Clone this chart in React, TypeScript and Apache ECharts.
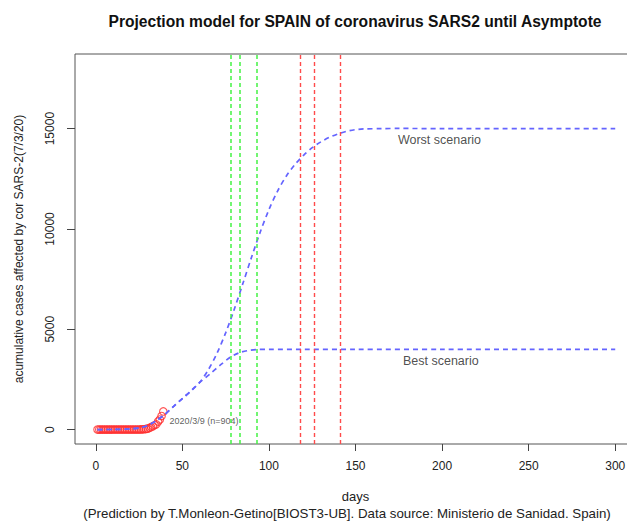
import React, { useEffect, useRef } from "react";
import * as echarts from "echarts";

// Observed cumulative cases (day 1 = 2020/1/31)
const observedDays = [1, 2, 3, 4, 5, 6, 7, 8, 9, 10, 11, 12, 13, 14, 15, 16, 17, 18, 19, 20, 21, 22, 23, 24, 25, 26, 27, 28, 29, 30, 31, 32, 33, 34, 35, 36, 37, 38, 39];
const observedCases = [1, 1, 1, 1, 1, 1, 1, 1, 1, 2, 2, 2, 2, 2, 2, 2, 2, 2, 2, 2, 2, 2, 2, 2, 3, 6, 13, 15, 32, 45, 84, 120, 165, 222, 259, 400, 500, 673, 904];

// Worst scenario projection
const worstDays = [1, 10, 20, 25, 30, 35, 40, 45, 50, 55, 60, 65, 70, 75, 80, 85, 90, 95, 100, 105, 110, 115, 120, 125, 130, 135, 140, 145, 150, 155, 165, 175, 200, 250, 300];
const worstCases = [0, 5, 30, 80, 200, 450, 765, 1160, 1545, 1930, 2350, 2980, 3800, 4820, 6000, 7290, 8600, 9850, 10960, 11890, 12630, 13210, 13670, 14050, 14340, 14570, 14740, 14870, 14950, 14985, 15000, 15010, 15000, 15000, 15000];

// Best scenario projection
const bestDays = [1, 10, 20, 25, 30, 35, 40, 45, 50, 55, 60, 66, 72, 78, 83, 88, 93, 100, 120, 150, 200, 250, 300];
const bestCases = [0, 5, 30, 80, 200, 450, 765, 1160, 1545, 1930, 2350, 2770, 3220, 3620, 3830, 3940, 3985, 4000, 4000, 4000, 4000, 4000, 4000];

// Vertical reference lines (days)
const greenLineDays = [78, 83, 93];
const redLineDays = [118, 126, 141];

const xTicks = [0, 50, 100, 150, 200, 250, 300];
const yTicks = [0, 5000, 10000, 15000];

const scenarioLabels = ["Worst scenario", "Best scenario"];
const scenarioLabelDays = [174.5, 177.4];
const scenarioLabelCases = [14450, 3400];

const lastPointLabel = "2020/3/9 (n=904)";

const TITLE = "Projection model for SPAIN of coronavirus SARS2 until Asymptote";
const X_NAME = "days";
const SUBTITLE = "(Prediction by T.Monleon-Getino[BIOST3-UB]. Data source: Ministerio de Sanidad. Spain)";
const Y_NAME = "acumulative cases affected by cor SARS-2(7/3/20)";

const FONT = "Liberation Sans, Arial, sans-serif";

export default function App() {
  const ref = useRef<HTMLDivElement>(null);

  useEffect(() => {
    if (!ref.current) return;
    const chart = echarts.init(ref.current, undefined, { renderer: "svg" });

    const blue = "#6464ff";
    const lineStyleBlue = { color: blue, width: 1.7, type: [5, 4] as any };

    const markLineData = [
      ...greenLineDays.map((d) => ({ xAxis: d, lineStyle: { color: "#44f244", width: 1.5 } })),
      ...redLineDays.map((d) => ({ xAxis: d, lineStyle: { color: "#ff4a4a", width: 1.4 } })),
    ];

    const option: any = {
      animation: false,
      backgroundColor: "#ffffff",
      textStyle: { fontFamily: FONT },
      grid: {
        left: 75,
        top: 54,
        width: 561,
        height: 390,
        show: true,
        borderColor: "#555",
        borderWidth: 1,
        outerBoundsMode: "none",
        containLabel: false,
      },
      graphic: [
        {
          type: "text",
          x: 355,
          y: 21,
          style: {
            text: TITLE,
            fontFamily: FONT,
            fontSize: 15.6,
            fontWeight: "bold",
            fill: "#111",
            textAlign: "center",
            textVerticalAlign: "middle",
          },
        },
        {
          type: "text",
          x: 347,
          y: 513,
          style: {
            text: SUBTITLE,
            fontFamily: FONT,
            fontSize: 13.3,
            fill: "#222",
            textAlign: "center",
            textVerticalAlign: "middle",
          },
        },
      ],
      xAxis: {
        type: "value",
        min: -12,
        max: 312,
        name: X_NAME,
        nameLocation: "middle",
        nameGap: 46,
        nameTextStyle: { fontSize: 13, color: "#222", fontFamily: FONT },
        axisLine: { show: false, onZero: false },
        axisTick: { show: true, inside: false, length: 7, customValues: xTicks, lineStyle: { color: "#444" } },
        axisLabel: { customValues: xTicks, fontSize: 12, color: "#222", margin: 16, fontFamily: FONT },
        splitLine: { show: false },
      },
      yAxis: {
        type: "value",
        min: -720,
        max: 18720,
        name: Y_NAME,
        nameLocation: "middle",
        nameGap: 50,
        nameRotate: 90,
        nameTextStyle: { fontSize: 12, color: "#222", fontFamily: FONT },
        axisLine: { show: false, onZero: false },
        axisTick: { show: true, inside: false, length: 8, customValues: yTicks, lineStyle: { color: "#444" } },
        axisLabel: {
          customValues: yTicks,
          rotate: 90,
          fontSize: 12,
          color: "#222",
          margin: 19,
          fontFamily: FONT,
          formatter: (v: number) => String(v),
        },
        splitLine: { show: false },
      },
      series: [
        {
          name: "observed",
          type: "scatter",
          symbol: "circle",
          symbolSize: 7.5,
          itemStyle: { color: "rgba(0,0,0,0)", borderColor: "#ff2a2a", borderWidth: 1.1 },
          data: observedDays.map((d, i) => {
            const last = i === observedDays.length - 1;
            return last
              ? {
                  value: [d, observedCases[i]],
                  label: {
                    show: true,
                    position: "right",
                    distance: 2,
                    offset: [0, 10],
                    formatter: lastPointLabel,
                    fontSize: 9,
                    color: "#333",
                    fontFamily: FONT,
                  },
                }
              : [d, observedCases[i]];
          }),
          z: 2,
        },
        {
          name: "worst",
          type: "line",
          smooth: 0.3,
          showSymbol: false,
          symbol: "none",
          lineStyle: lineStyleBlue,
          data: worstDays.map((d, i) => [d, worstCases[i]]),
          z: 3,
          markLine: {
            silent: true,
            symbol: ["none", "none"],
            label: { show: false },
            lineStyle: { type: [4, 3] },
            data: markLineData,
          },
        },
        {
          name: "best",
          type: "line",
          smooth: 0.3,
          showSymbol: false,
          symbol: "none",
          lineStyle: lineStyleBlue,
          data: bestDays.map((d, i) => [d, bestCases[i]]),
          z: 3,
        },
        {
          name: "labels",
          type: "scatter",
          symbolSize: 0,
          silent: true,
          data: scenarioLabels.map((t, i) => ({
            value: [scenarioLabelDays[i], scenarioLabelCases[i]],
            label: {
              show: true,
              position: "right",
              distance: 0,
              formatter: t,
              fontSize: 12.5,
              color: "#222",
              fontFamily: FONT,
            },
          })),
          z: 4,
        },
      ],
    };

    chart.setOption(option);
    return () => chart.dispose();
  }, []);

  return (
    <div
      ref={ref}
      style={{ position: "fixed", left: 0, top: 0, width: 627, height: 523, background: "#fff" }}
    />
  );
}
